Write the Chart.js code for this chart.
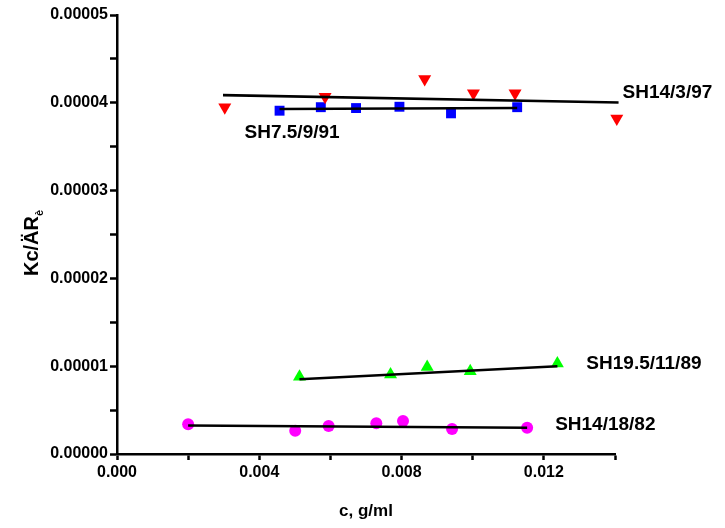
<!DOCTYPE html>
<html>
<head>
<meta charset="utf-8">
<script src="https://cdn.jsdelivr.net/npm/chart.js@4.4.0/dist/chart.umd.min.js"></script>
<style>
  html, body { margin: 0; padding: 0; background: #fff; }
  #wrap { width: 725px; height: 528px; }
</style>
</head>
<body>
<div id="wrap"><canvas id="c" width="725" height="528"></canvas></div>
<script>
// ---- data ----
const redX = [0.00303, 0.00585, 0.00865, 0.01002, 0.01119, 0.01405];
const redY = [3.95e-5, 4.07e-5, 4.27e-5, 4.11e-5, 4.11e-5, 3.82e-5];
const blueX = [0.00457, 0.00573, 0.00672, 0.00794, 0.00939, 0.01125];
const blueY = [3.91e-5, 3.95e-5, 3.94e-5, 3.955e-5, 3.88e-5, 3.95e-5];
const greenX = [0.00513, 0.00769, 0.00872, 0.00993, 0.01238];
const greenY = [0.88e-5, 0.906e-5, 0.99e-5, 0.943e-5, 1.03e-5];
const magentaX = [0.00200, 0.00501, 0.00595, 0.00729, 0.00804, 0.00942, 0.01153];
const magentaY = [0.3375e-5, 0.265e-5, 0.318e-5, 0.349e-5, 0.375e-5, 0.284e-5, 0.299e-5];

// fitted lines (end points)
const redFitX = [0.00298, 0.01410];
const redFitY = [4.087e-5, 4.003e-5];
const blueFitX = [0.00457, 0.01125];
const blueFitY = [3.93e-5, 3.94e-5];
const greenFitX = [0.00513, 0.01238];
const greenFitY = [0.852e-5, 1.0e-5];
const magentaFitX = [0.00200, 0.01153];
const magentaFitY = [0.324e-5, 0.299e-5];

const seriesLabels = ["SH14/3/97", "SH7.5/9/91", "SH19.5/11/89", "SH14/18/82"];
const xTitle = "c, g/ml";
const yTitleMain = "Kc/ÄR";
const yTitleSub = "è";

const xMin = 0, xMax = 0.014, xStep = 0.002;
const yMin = 0, yMax = 0.00005, yStep = 0.000005;

function pts(xs, ys) { return xs.map((x, i) => ({ x: x, y: ys[i] })); }

const FONT = "'Liberation Sans', Arial, Helvetica, sans-serif";

function scatterDS(xs, ys, color, style, rot, r) {
  return {
    type: 'scatter', data: pts(xs, ys), showLine: false,
    pointStyle: style, rotation: rot, pointRadius: r, pointHoverRadius: r,
    backgroundColor: color, borderColor: color, borderWidth: 0,
    order: 2, clip: false
  };
}
function lineDS(xs, ys) {
  return {
    type: 'line', data: pts(xs, ys), showLine: true,
    borderColor: '#000', borderWidth: 2.6, pointRadius: 0, pointHoverRadius: 0,
    fill: false, tension: 0, order: 1, clip: false
  };
}

const labelPlugin = {
  id: 'labels',
  afterDatasetsDraw(chart) {
    const ctx = chart.ctx;
    const xs = chart.scales.x, ys = chart.scales.y;
    ctx.save();
    ctx.fillStyle = '#000';
    ctx.font = 'bold 19px ' + FONT;
    ctx.textBaseline = 'middle';
    ctx.textAlign = 'left';
    // anchor labels to fit-line ends
    ctx.fillText(seriesLabels[0], xs.getPixelForValue(redFitX[1]) + 4, ys.getPixelForValue(redFitY[1]) - 10);
    ctx.fillText(seriesLabels[1], xs.getPixelForValue(blueFitX[0]) - 35, ys.getPixelForValue(blueFitY[0]) + 24);
    ctx.fillText(seriesLabels[2], xs.getPixelForValue(greenFitX[1]) + 29, ys.getPixelForValue(greenFitY[1]) - 2);
    ctx.fillText(seriesLabels[3], xs.getPixelForValue(magentaFitX[1]) + 28, ys.getPixelForValue(magentaFitY[1]) - 3);

    // y axis title with subscript
    ctx.translate(31, 243);
    ctx.rotate(-Math.PI / 2);
    ctx.font = 'bold 20px ' + FONT;
    const w = ctx.measureText(yTitleMain).width;
    ctx.font = 'bold 11px ' + FONT;
    const ws = ctx.measureText(yTitleSub).width;
    const total = w + ws;
    ctx.font = 'bold 20px ' + FONT;
    ctx.textBaseline = 'alphabetic';
    ctx.fillText(yTitleMain, -total / 2, 7);
    ctx.font = 'bold 11px ' + FONT;
    ctx.fillText(yTitleSub, -total / 2 + w, 12);
    ctx.restore();
  }
};

new Chart(document.getElementById('c'), {
  data: {
    datasets: [
      lineDS(redFitX, redFitY),
      lineDS(blueFitX, blueFitY),
      lineDS(greenFitX, greenFitY),
      lineDS(magentaFitX, magentaFitY),
      scatterDS(redX, redY, '#FF0000', 'triangle', 180, 7.5),
      scatterDS(blueX, blueY, '#0000FF', 'rect', 0, 7),
      scatterDS(greenX, greenY, '#00FF00', 'triangle', 0, 7.5),
      scatterDS(magentaX, magentaY, '#FF00FF', 'circle', 0, 6)
    ]
  },
  options: {
    responsive: false,
    animation: false,
    events: [],
    layout: { padding: { top: 15, right: 110, left: 0, bottom: 0 } },
    plugins: { legend: { display: false }, tooltip: { enabled: false } },
    scales: {
      x: {
        type: 'linear', min: xMin, max: xMax,
        afterFit(scale) { scale.height = 74; },
        border: { display: true, color: '#000', width: 2.5 },
        grid: { display: true, drawOnChartArea: false, drawTicks: true, tickLength: 6, tickColor: '#000', tickWidth: 2.5 },
        ticks: {
          stepSize: xStep, color: '#000', padding: 3, maxRotation: 0, autoSkip: false,
          font: { family: FONT, size: 16, weight: 'bold' },
          callback(v) { const n = Math.round(v * 1000); return n % 4 === 0 ? (n / 1000).toFixed(3) : ''; }
        },
        title: { display: true, text: xTitle, color: '#000', font: { family: FONT, size: 17, weight: 'bold' }, padding: { top: 0, bottom: 6 } }
      },
      y: {
        type: 'linear', min: yMin, max: yMax,
        afterFit(scale) { scale.width = 117; },
        border: { display: true, color: '#000', width: 2.5 },
        grid: { display: true, drawOnChartArea: false, drawTicks: true, tickLength: 7, tickColor: '#000', tickWidth: 2.5 },
        ticks: {
          stepSize: yStep, color: '#000', padding: 2, autoSkip: false,
          font: { family: FONT, size: 16, weight: 'bold' },
          callback(v) { const n = Math.round(v * 1e6); return n % 10 === 0 ? (n / 1e6).toFixed(5) : ''; }
        }
      }
    }
  },
  plugins: [labelPlugin]
});
</script>
</body>
</html>
